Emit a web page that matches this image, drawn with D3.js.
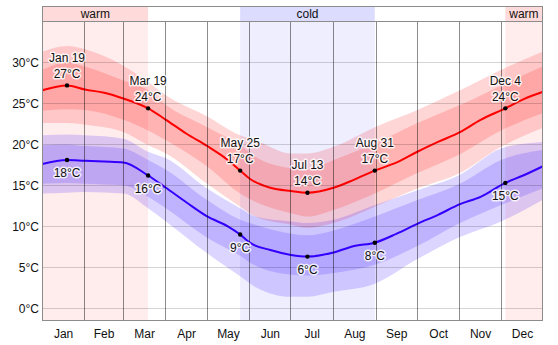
<!DOCTYPE html>
<html lang="en">
<head>
<meta charset="utf-8"/>
<script src="https://d3js.org/d3.v7.min.js"></script>
<style>
  body { margin: 0; background: #fff; }
  * { font-family: Arial, "Liberation Sans", sans-serif; }
  text { font-size: 12px; fill: #111; }
  .grid-h { stroke: #000; stroke-opacity: 0.17; }
  .grid-v { stroke: #000; stroke-opacity: 0.45; }
  .frame { fill: none; stroke: #8c8c8c; }
  .halo { stroke: #fff; stroke-width: 3px; stroke-opacity: 0.8; paint-order: stroke; stroke-linejoin: round; }
</style>
</head>
<body>
<svg id="chart" width="558" height="345"></svg>
<script>
  // day of year (0 = Jan 1)
  const months = ["Jan","Feb","Mar","Apr","May","Jun","Jul","Aug","Sep","Oct","Nov","Dec"];
  const monthStarts = [0,31,59,90,120,151,181,212,243,273,304,334,365];
  const yTicks = [0,5,10,15,20,25,30];

  // seasons
  const warmSeasons = [[0,77],[337,365]];
  const coldSeasons = [[144,242]];

  // average daily high / low
  const lineDays = [0,18,31,45,59,77,90,105,120,135,144,151,166,181,193,212,227,242,258,273,288,304,319,337,350,364];
  const highAvg = [26.6,27.2,26.7,26.3,25.6,24.4,23.0,21.3,19.8,18.1,16.8,15.8,14.7,14.3,14.1,14.7,15.7,16.8,17.8,19.1,20.3,21.5,23.0,24.4,25.5,26.4];
  const lowAvg  = [17.6,18.1,18.0,17.9,17.8,16.2,14.7,12.9,11.2,10.0,9.0,8.0,7.1,6.5,6.3,6.8,7.6,8.0,9.1,10.3,11.4,12.7,13.6,15.3,16.2,17.3];

  // percentile bands
  const bandDays = [0,18,31,59,77,90,120,144,155,181,193,212,242,273,304,334,364];
  const highP90 = [31.3,32.0,31.6,29.6,27.6,26.0,23.4,21.1,20.5,18.9,18.9,19.7,22.1,24.2,26.6,29.1,31.3];
  const highP75 = [29.1,30.0,29.5,27.8,26.6,24.8,22.1,19.9,18.5,17.1,16.9,18.1,20.1,22.6,24.8,27.2,29.5];
  const highP25 = [24.1,24.3,24.2,23.0,21.7,20.5,17.3,14.0,13.0,11.6,11.2,12.0,14.0,16.5,18.8,21.7,23.8];
  const highP10 = [22.6,22.6,22.4,21.5,19.9,18.9,15.2,12.4,11.2,10.2,9.8,10.4,12.4,14.6,16.5,19.7,22.0];
  const lowP90  = [21.1,21.2,21.1,20.7,19.1,18.3,14.6,12.2,11.2,10.6,10.4,10.8,12.6,14.4,16.3,19.5,20.3];
  const lowP75  = [19.9,20.0,19.8,19.5,18.1,16.9,13.2,10.8,10.2,9.1,8.9,9.5,11.2,13.2,15.2,18.1,19.3];
  const lowP25  = [15.2,15.3,15.2,15.0,13.6,12.2,8.6,6.4,5.2,4.1,4.0,4.3,5.3,7.6,10.4,12.6,14.6];
  const lowP10  = [14.0,14.1,14.2,14.0,12.2,10.6,6.7,3.9,2.6,1.4,1.4,2.0,3.0,6.0,8.7,10.6,13.2];

  // annotated days
  const markDays = [18,77,144,193,242,337];
  const markNames = ["Jan 19","Mar 19","May 25","Jul 13","Aug 31","Dec 4"];

  const svg = d3.select("#chart");
  const plotL = 42.5, plotR = 542.5, stripT = 6.5, plotT = 21.5, plotB = 320.5;

  const x = d3.scaleLinear().domain([0,365]).range([42.3,543.8]);
  const y = d3.scaleLinear().domain([-1.5,35]).range([plotB,plotT]);

  svg.append("clipPath").attr("id","plot-clip")
    .append("rect").attr("x",plotL).attr("y",plotT).attr("width",plotR-plotL).attr("height",plotB-plotT);
  svg.append("clipPath").attr("id","strip-clip")
    .append("rect").attr("x",plotL).attr("y",stripT).attr("width",plotR-plotL).attr("height",plotB-stripT);

  // season shading + strip labels
  const seasons = svg.append("g").attr("clip-path","url(#strip-clip)");
  const stripText = svg.append("g");
  function season(list, stripColor, bgColor, label) {
    list.forEach(s => {
      seasons.append("rect").attr("x",x(s[0])).attr("width",x(s[1])-x(s[0]))
        .attr("y",stripT).attr("height",plotT-stripT).attr("fill",stripColor);
      seasons.append("rect").attr("x",x(s[0])).attr("width",x(s[1])-x(s[0]))
        .attr("y",plotT).attr("height",plotB-plotT).attr("fill",bgColor);
      const cx = (Math.max(x(s[0]),plotL) + Math.min(x(s[1]),plotR)) / 2;
      stripText.append("text").attr("x",cx).attr("y",18).attr("text-anchor","middle").text(label);
    });
  }
  season(warmSeasons, "#ffdada", "#ffeded", "warm");
  season(coldSeasons, "#dcdcff", "#eeeeff", "cold");

  // bands
  const plot = svg.append("g").attr("clip-path","url(#plot-clip)");
  function band(lo, hi, color) {
    const area = d3.area()
      .x((d,i) => x(bandDays[i]))
      .y0((d,i) => y(lo[i]))
      .y1((d,i) => y(hi[i]))
      .curve(d3.curveMonotoneX);
    plot.append("path").attr("d", area(bandDays)).attr("fill", color);
  }
  const redBand = "rgba(255,0,0,0.16)";
  const blueBand = "rgba(60,20,255,0.18)";
  band(highP10, highP90, redBand);
  band(highP25, highP75, redBand);
  band(lowP10, lowP90, blueBand);
  band(lowP25, lowP75, blueBand);

  // grid
  svg.append("g").selectAll("line").data(yTicks).join("line")
    .attr("class","grid-h")
    .attr("x1",plotL).attr("x2",plotR)
    .attr("y1",d => Math.round(y(d))+0.5).attr("y2",d => Math.round(y(d))+0.5);
  svg.append("g").selectAll("line").data(monthStarts.slice(1,12)).join("line")
    .attr("class","grid-v")
    .attr("x1",d => Math.floor(x(d))+0.5).attr("x2",d => Math.floor(x(d))+0.5)
    .attr("y1",plotT).attr("y2",plotB);

  // average lines
  const line = d3.line().x((d,i) => x(lineDays[i])).y(d => y(d)).curve(d3.curveMonotoneX);
  plot.append("path").attr("d",line(highAvg)).attr("fill","none").attr("stroke","#ff0000").attr("stroke-width",2);
  plot.append("path").attr("d",line(lowAvg)).attr("fill","none").attr("stroke","#3300ff").attr("stroke-width",2);

  // frame
  svg.append("rect").attr("class","frame").attr("x",plotL).attr("y",stripT).attr("width",plotR-plotL).attr("height",plotB-stripT);
  svg.append("line").attr("class","frame").attr("x1",plotL).attr("x2",plotR).attr("y1",plotT).attr("y2",plotT);

  // axis labels
  svg.append("g").selectAll("text").data(yTicks).join("text")
    .attr("x",39).attr("y",d => y(d)+4.5).attr("text-anchor","end").text(d => d + "°C");
  svg.append("g").selectAll("text").data(months).join("text")
    .attr("x",(d,i) => x((monthStarts[i]+monthStarts[i+1])/2)).attr("y",338)
    .attr("text-anchor","middle").text(d => d);

  // markers
  const marks = markDays.map((d,i) => {
    const k = lineDays.indexOf(d);
    return {day: d, name: markNames[i], hi: highAvg[k], lo: lowAvg[k]};
  });
  const mg = svg.append("g");
  marks.forEach(m => {
    const mx = x(m.day), hy = y(m.hi), ly = y(m.lo);
    mg.append("circle").attr("cx",mx).attr("cy",hy).attr("r",2.2).attr("fill","#000");
    mg.append("circle").attr("cx",mx).attr("cy",ly).attr("r",2.2).attr("fill","#000");
    mg.append("text").attr("class","halo").attr("x",mx).attr("y",hy-23.5).attr("text-anchor","middle").text(m.name);
    mg.append("text").attr("class","halo").attr("x",mx).attr("y",hy-7.5).attr("text-anchor","middle").text(Math.round(m.hi) + "°C");
    mg.append("text").attr("class","halo").attr("x",mx).attr("y",ly+17.5).attr("text-anchor","middle").text(Math.round(m.lo) + "°C");
  });
</script>
</body>
</html>
